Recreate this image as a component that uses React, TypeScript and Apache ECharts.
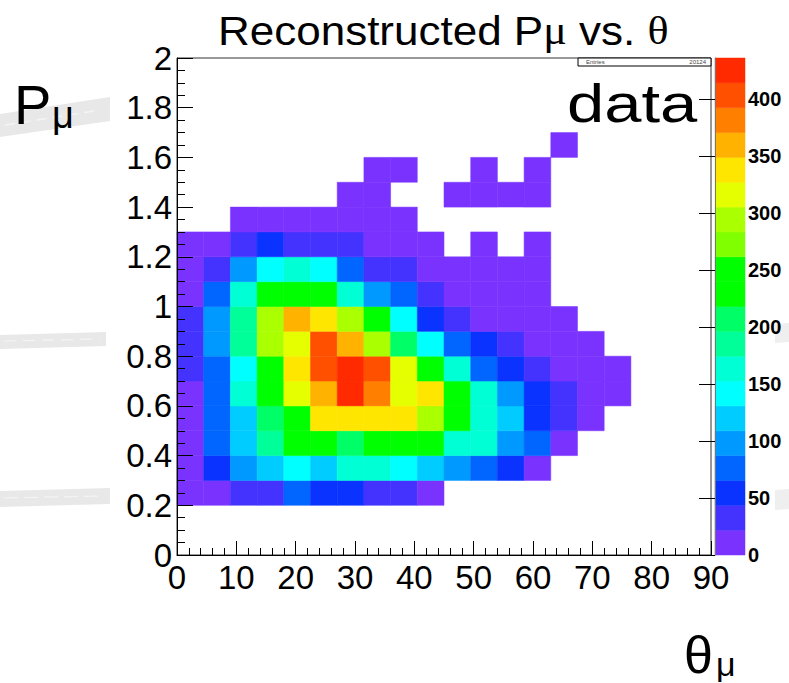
import React, { useEffect, useRef } from "react";
import * as echarts from "echarts";

// ---- binning ----
const thetaBinWidth = 4.5; // degrees, 20 bins over 0..90
const pBinWidth = 0.1; // GeV, 20 bins over 0..2
const zMax = 436;
const nContours = 20;

// ROOT-like rainbow palette, 20 contour colours (low -> high)
const palette = [
  "#7a33ff", "#4433ff", "#0a33ff", "#0066ff", "#0099ff",
  "#00ccff", "#00ffff", "#00ffd4", "#00ff99", "#00ff66",
  "#00ff00", "#00ff00", "#80ff00", "#aaff00", "#e6ff00",
  "#ffe600", "#ffb300", "#ff8000", "#ff5000", "#ff2a00",
];

const xTicks = [0, 10, 20, 30, 40, 50, 60, 70, 80, 90];
const yTicks = [0, 0.2, 0.4, 0.6, 0.8, 1, 1.2, 1.4, 1.6, 1.8, 2];
const zTicks = [0, 50, 100, 150, 200, 250, 300, 350, 400];

// lower edge of each P bin that has entries
const pLowEdges = [0.2, 0.3, 0.4, 0.5, 0.6, 0.7, 0.8, 0.9, 1.0, 1.1, 1.2, 1.3, 1.4, 1.5, 1.6];

// counts per theta bin (0-4.5, 4.5-9, ...) for each P bin
const p020 = [12, 18, 35, 38, 74, 58, 56, 33, 31, 9];
const p030 = [14, 55, 98, 121, 140, 118, 162, 165, 142, 120, 101, 77, 52, 8];
const p040 = [17, 78, 123, 186, 228, 233, 205, 240, 236, 226, 166, 160, 96, 75, 6];
const p050 = [16, 80, 122, 208, 250, 338, 340, 336, 333, 292, 231, 164, 119, 55, 36, 10];
const p060 = [19, 79, 163, 246, 316, 358, 426, 380, 312, 340, 238, 167, 100, 57, 33, 13, 5];
const p070 = [34, 76, 144, 242, 337, 404, 430, 402, 318, 229, 161, 79, 54, 32, 18, 11, 7];
const p080 = [37, 100, 188, 295, 314, 408, 360, 290, 206, 139, 78, 58, 36, 15, 9, 4];
const p090 = [33, 97, 184, 293, 362, 344, 296, 244, 145, 53, 35, 14, 8, 11, 5];
const p100 = [20, 81, 168, 233, 252, 238, 159, 99, 74, 32, 12, 8, 6, 4];
const p110 = [15, 36, 102, 146, 162, 138, 80, 37, 33, 17, 10, 7, 5, 3];
const p120 = [8, 13, 38, 59, 34, 35, 31, 16, 9, 5, 0, 3, 0, 2];
const p130 = [0, 0, 12, 14, 10, 9, 7, 4, 3];
const p140 = [0, 0, 0, 0, 0, 0, 5, 6, 0, 0, 2, 3, 2, 1];
const p150 = [0, 0, 0, 0, 0, 0, 0, 4, 2, 0, 0, 1, 0, 1];
const p160 = [0, 0, 0, 0, 0, 0, 0, 0, 0, 0, 0, 0, 0, 0, 1];

const rows = [p020, p030, p040, p050, p060, p070, p080, p090, p100, p110, p120, p130, p140, p150, p160];

const entries = "20124";

const FONT = "Liberation Sans, Arial, Helvetica, sans-serif";
const SERIF = "Liberation Serif, Times New Roman, serif";

function bandColor(v: number) {
  const b = Math.min(nContours - 1, Math.max(0, Math.floor(v / (zMax / nContours))));
  return palette[b];
}

export default function App() {
  const ref = useRef<HTMLDivElement>(null);

  useEffect(() => {
    if (!ref.current) return;
    const chart = echarts.init(ref.current, null, { renderer: "svg" });

    const cells: number[][] = [];
    rows.forEach((row, r) => {
      row.forEach((v, c) => {
        if (v > 0) cells.push([c * thetaBinWidth, pLowEdges[r], v]);
      });
    });
    const bands = palette.map((_, i) => [(i * zMax) / nContours, ((i + 1) * zMax) / nContours, i]);

    const smudge = "#e8e8e8";
    const streak = "#f4f4f4";

    const option: any = {
      animation: false,
      backgroundColor: "#ffffff",
      grid: [
        {
          left: 177, top: 58, width: 534, height: 497,
          show: true, borderColor: "#333", borderWidth: 1, backgroundColor: "transparent",
        },
        { left: 715, top: 58, width: 30, height: 497, show: false },
      ],
      xAxis: [
        {
          type: "value", gridIndex: 0, min: 0, max: 90, interval: 10, z: 10,
          axisLine: { show: true, onZero: false, lineStyle: { color: "#000", width: 1 } },
          axisTick: { show: true, inside: true, length: 14, lineStyle: { color: "#000" } },
          minorTick: { show: true, splitNumber: 5, length: 7, lineStyle: { color: "#000" } },
          splitLine: { show: false },
          axisLabel: {
            show: true, color: "#000", fontFamily: FONT, fontSize: 33, margin: 6,
            customValues: xTicks,
          },
        },
        { type: "value", gridIndex: 1, min: 0, max: 1, show: false },
      ],
      yAxis: [
        {
          type: "value", gridIndex: 0, min: 0, max: 2, interval: 0.2, z: 10,
          axisLine: { show: true, onZero: false, lineStyle: { color: "#000", width: 1 } },
          axisTick: { show: true, inside: true, length: 16, lineStyle: { color: "#000" } },
          minorTick: { show: true, splitNumber: 4, length: 8, lineStyle: { color: "#000" } },
          splitLine: { show: false },
          axisLabel: {
            show: true, color: "#000", fontFamily: FONT, fontSize: 33, margin: 5,
            customValues: yTicks,
            formatter: (v: number) => String(Number(v.toFixed(1))),
          },
        },
        {
          type: "value", gridIndex: 1, min: 0, max: zMax, position: "right", z: 10,
          axisLine: { show: true, lineStyle: { color: "#777", width: 1 } },
          axisTick: { show: true, inside: true, length: 16, customValues: zTicks, lineStyle: { color: "#000" } },
          splitLine: { show: false },
          axisLabel: {
            show: true, color: "#000", fontFamily: FONT, fontSize: 20, fontWeight: "bold", margin: 3,
            customValues: zTicks,
          },
        },
      ],
      series: [
        {
          type: "custom",
          xAxisIndex: 0, yAxisIndex: 0,
          data: cells,
          encode: { x: 0, y: 1 },
          renderItem: (params: any, api: any) => {
            const x0 = api.value(0), y0 = api.value(1), v = api.value(2);
            const a = api.coord([x0, y0 + pBinWidth]);
            const b = api.coord([x0 + thetaBinWidth, y0]);
            const col = bandColor(v);
            return {
              type: "rect",
              shape: { x: a[0], y: a[1], width: b[0] - a[0], height: b[1] - a[1] },
              style: { fill: col, stroke: col, lineWidth: 0.5 },
            };
          },
        },
        {
          type: "custom",
          xAxisIndex: 1, yAxisIndex: 1,
          data: bands,
          renderItem: (params: any, api: any) => {
            const lo = api.value(0), hi = api.value(1), i = api.value(2);
            const a = api.coord([0, hi]);
            const b = api.coord([1, lo]);
            const col = palette[i];
            return {
              type: "rect",
              shape: { x: a[0], y: a[1], width: b[0] - a[0], height: b[1] - a[1] },
              style: { fill: col, stroke: col, lineWidth: 0.5 },
            };
          },
        },
      ],
      graphic: [
        // scan smudges
        { type: "polygon", z: 0, shape: { points: [[0, 114], [110, 97], [110, 121], [0, 137]] }, style: { fill: smudge } },
        { type: "line", z: 1, shape: { x1: 5, y1: 125, x2: 100, y2: 110 }, style: { stroke: streak, lineWidth: 1.5, lineDash: [10, 6] } },
        { type: "polygon", z: 0, shape: { points: [[0, 335], [106, 332], [106, 346], [0, 349]] }, style: { fill: smudge } },
        { type: "line", z: 1, shape: { x1: 4, y1: 341, x2: 100, y2: 339 }, style: { stroke: streak, lineWidth: 1.2, lineDash: [12, 7] } },
        { type: "polygon", z: 0, shape: { points: [[0, 491], [110, 488], [110, 504], [0, 507]] }, style: { fill: smudge } },
        { type: "line", z: 1, shape: { x1: 4, y1: 498, x2: 104, y2: 496 }, style: { stroke: streak, lineWidth: 1.2, lineDash: [14, 6] } },
        { type: "polygon", z: 0, shape: { points: [[775, 324], [789, 323], [789, 342], [775, 343]] }, style: { fill: "#efefef" } },
        { type: "polygon", z: 0, shape: { points: [[775, 490], [789, 489], [789, 509], [775, 510]] }, style: { fill: "#efefef" } },
        // title
        {
          type: "text", z: 100, x: 218, y: 31, scaleX: 1.1,
          style: {
            text: "{a|Reconstructed P}{b|μ}{a| vs. }{b|θ}",
            x: 0, y: 0, verticalAlign: "middle", align: "left",
            rich: {
              a: { fontFamily: FONT, fontSize: 40, fill: "#000" },
              b: { fontFamily: SERIF, fontSize: 40, fill: "#000" },
            },
          },
        },
        // "data" label
        {
          type: "text", z: 100, x: 567, y: 103, scaleX: 1.24,
          style: { text: "data", x: 0, y: 0, fontFamily: FONT, fontSize: 54, fill: "#000", verticalAlign: "middle", align: "left" },
        },
        // y axis title P_mu
        {
          type: "text", z: 100, x: 14, y: 104,
          style: { text: "P", x: 0, y: 0, fontFamily: FONT, fontSize: 56, fill: "#000", verticalAlign: "middle", align: "left" },
        },
        {
          type: "text", z: 100, x: 52, y: 115,
          style: { text: "μ", x: 0, y: 0, fontFamily: FONT, fontSize: 38, fill: "#000", verticalAlign: "middle", align: "left" },
        },
        // x axis title theta_mu
        {
          type: "text", z: 100, x: 684, y: 655,
          style: { text: "θ", x: 0, y: 0, fontFamily: FONT, fontSize: 52, fill: "#000", verticalAlign: "middle", align: "left" },
        },
        {
          type: "text", z: 100, x: 716, y: 664,
          style: { text: "μ", x: 0, y: 0, fontFamily: FONT, fontSize: 34, fill: "#000", verticalAlign: "middle", align: "left" },
        },
        // stats box
        {
          type: "rect", z: 100,
          shape: { x: 578, y: 58, width: 133, height: 8 },
          style: { fill: "#fff", stroke: "#000", lineWidth: 1 },
        },
        {
          type: "text", z: 101, x: 586, y: 62,
          style: { text: "Entries", x: 0, y: 0, fontFamily: FONT, fontSize: 6, fill: "#444", verticalAlign: "middle", align: "left" },
        },
        {
          type: "text", z: 101, x: 706, y: 62,
          style: { text: entries, x: 0, y: 0, fontFamily: FONT, fontSize: 6, fill: "#444", verticalAlign: "middle", align: "right" },
        },
      ],
    };

    chart.setOption(option);
    return () => chart.dispose();
  }, []);

  return (
    <div
      ref={ref}
      style={{ position: "fixed", left: 0, top: 0, width: 789, height: 683, background: "#fff" }}
    />
  );
}
